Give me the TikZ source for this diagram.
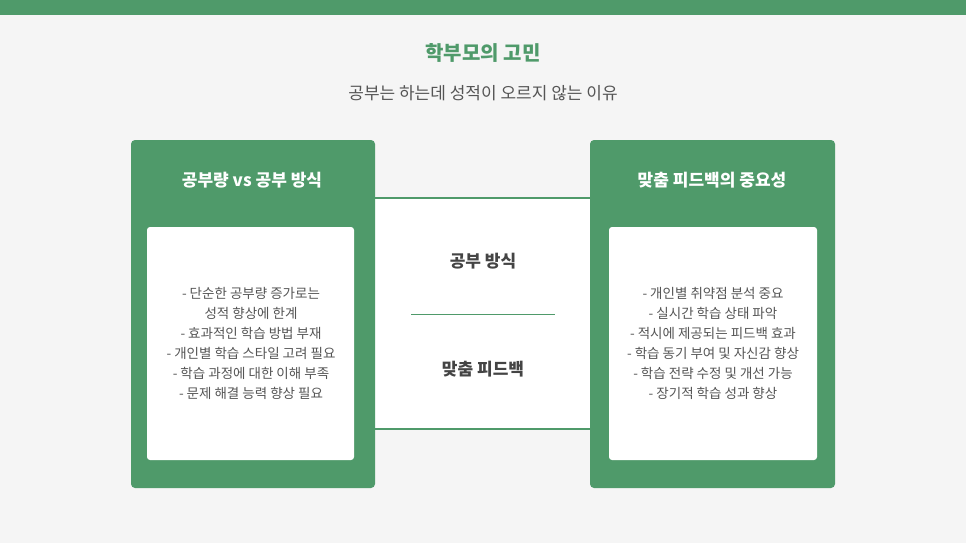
\documentclass[tikz,border=0pt]{standalone}
\usepackage{fontspec}
\setmainfont{Noto Sans CJK KR}
\newfontfamily\kb{Noto Sans CJK KR Bold}
\definecolor{gr}{HTML}{4F9A6A}
\definecolor{bg}{HTML}{F5F5F5}
\definecolor{tx}{HTML}{555555}
\definecolor{dk}{HTML}{444444}
\begin{document}
\begin{tikzpicture}[x=1pt,y=-1pt,
  panel/.style={fill=gr,rounded corners=4pt,draw=none},
  inner/.style={fill=white,rounded corners=3pt,draw=none},
  lst/.style={text=tx,font=\fontsize{13.5}{20}\selectfont,align=center},
  ttl/.style={text=white,font=\fontsize{17}{20}\selectfont\bfseries}]
\fill[bg] (0,0) rectangle (966,543);
\useasboundingbox (0,0) rectangle (966,543);
\fill[gr] (0,0) rectangle (966,15);
\node (t) at (483,53) [text=gr,font=\fontsize{20}{24}\selectfont\bfseries] {학부모의 고민};
\node (s) at (483,93) [text=tx,font=\fontsize{17}{20}\selectfont] {공부는 하는데 성적이 오르지 않는 이유};
\fill[white] (375,198) rectangle (590,429);
\draw[gr,line width=2pt] (375,198) -- (590,198) (375,429) -- (590,429);
\fill[panel] (131,140) rectangle (375,488);
\fill[panel] (590,140) rectangle (835,488);
\fill[inner] (147,227) rectangle (354,460);
\fill[inner] (609,227) rectangle (817,460);
\node (lt) at (252,180) [ttl] {공부량 vs 공부 방식};
\node (rt) at (712,180) [ttl] {맞춤 피드백의 중요성};
\node (ll) at (251,343) [lst] {- 단순한 공부량 증가로는\\성적 향상에 한계\\- 효과적인 학습 방법 부재\\- 개인별 학습 스타일 고려 필요\\- 학습 과정에 대한 이해 부족\\- 문제 해결 능력 향상 필요};
\node (rl) at (713,343) [lst] {- 개인별 취약점 분석 중요\\- 실시간 학습 상태 파악\\- 적시에 제공되는 피드백 효과\\- 학습 동기 부여 및 자신감 향상\\- 학습 전략 수정 및 개선 가능\\- 장기적 학습 성과 향상};
\node (m1) at (483,261) [text=dk,font=\fontsize{17}{20}\selectfont\bfseries] {공부 방식};
\node (m2) at (483,369) [text=dk,font=\fontsize{17}{20}\selectfont\bfseries] {맞춤 피드백};
\coordinate (a) at (411,314); \coordinate (b) at (555,314);
\draw[gr,line width=1pt] (a) -- (b);
\end{tikzpicture}
\end{document}
